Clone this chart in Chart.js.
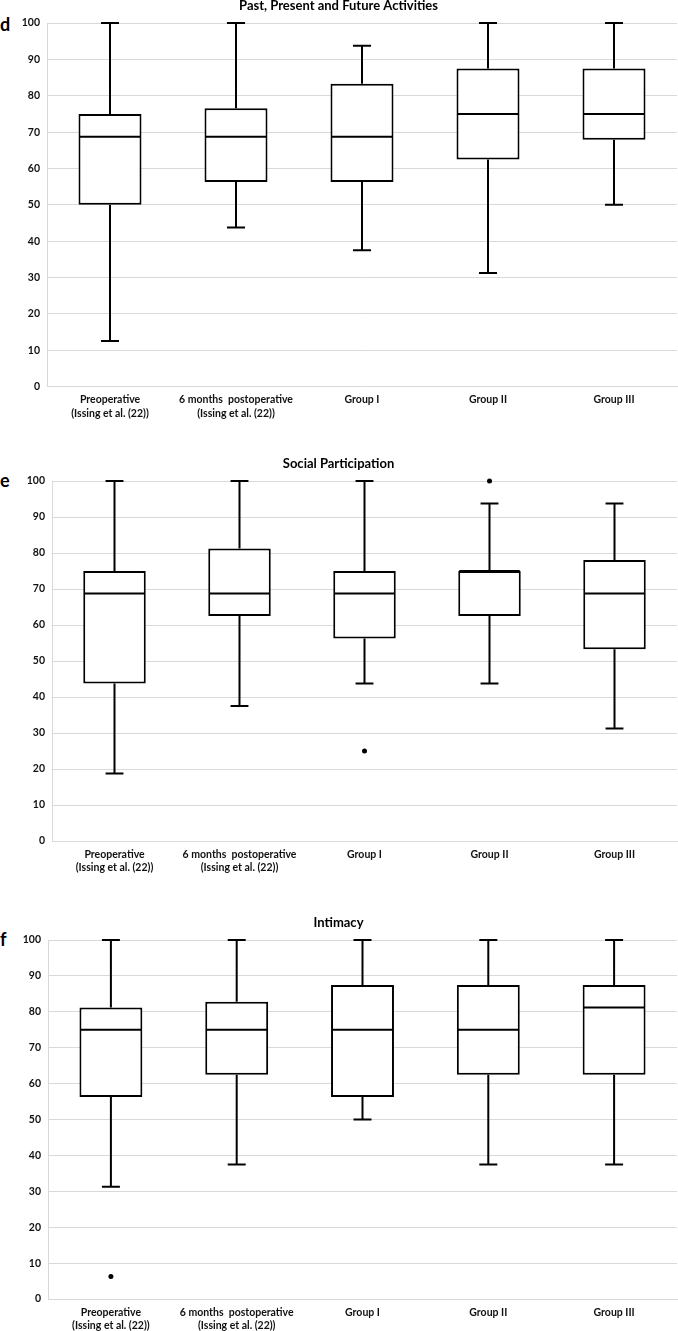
<!DOCTYPE html>
<html>
<head>
<meta charset="utf-8">
<script src="https://cdn.jsdelivr.net/npm/chart.js@4.4.0/dist/chart.umd.min.js"></script>
<style>
  body { margin: 0; width: 678px; height: 1331px; overflow: hidden; background: #fff; position: relative; }
  .panel { position: absolute; left: 0; width: 702px; }
  .letter { position: absolute; left: 0; font: bold 18px Lato, sans-serif; line-height: 1; color: #000; }
</style>
</head>
<body>

<div class="letter" style="top:15px">d</div>
<div class="letter" style="top:471px">e</div>
<div class="letter" style="top:930px">f</div>

<div class="panel" style="top:-2.5px;height:422.5px"><canvas id="chartD"></canvas></div>
<div class="panel" style="top:455.5px;height:419px"><canvas id="chartE"></canvas></div>
<div class="panel" style="top:915px;height:418px"><canvas id="chartF"></canvas></div>

<script>
// --- DATOS ---
const categories = [
    ['Preoperative', '(Issing et al. (22))'],
    ['6 months  postoperative', '(Issing et al. (22))'],
    'Group I',
    'Group II',
    'Group III'
];
const yTicks = [0, 10, 20, 30, 40, 50, 60, 70, 80, 90, 100];

// d: Past, Present and Future Activities
const dMin      = [12.5, 43.75, 37.5, 31.25, 50];
const dQ1       = [50, 56.25, 56.25, 62.5, 67.9];
const dMedian   = [68.75, 68.75, 68.75, 75, 75];
const dQ3       = [75, 76.6, 83.3, 87.5, 87.5];
const dMax      = [100, 100, 93.75, 100, 100];
const dOutliers = [null, null, null, null, null];

// e: Social Participation
const eMin      = [18.75, 37.5, 43.75, 43.75, 31.25];
const eQ1       = [43.75, 62.5, 56.25, 62.5, 53.3];
const eMedian   = [68.75, 68.75, 68.75, 75, 68.75];
const eQ3       = [75, 81.25, 75, 75, 78.1];
const eMax      = [100, 100, 100, 93.75, 93.75];
const eOutliers = [null, null, 25, 100, null];

// f: Intimacy
const fMin      = [31.25, 37.5, 50, 37.5, 37.5];
const fQ1       = [56.25, 62.5, 56.25, 62.5, 62.5];
const fMedian   = [75, 75, 75, 75, 81.25];
const fQ3       = [81.25, 82.8, 87.5, 87.5, 87.5];
const fMax      = [100, 100, 100, 100, 100];
const fOutliers = [6.25, null, null, null, null];

// --- PLUGIN: bigotes, topes y mediana ---
const boxWhiskers = {
    id: 'boxWhiskers',
    afterDatasetsDraw(chart) {
        const ds = chart.data.datasets[0];
        const meta = chart.getDatasetMeta(0);
        const y = chart.scales.y;
        const ctx = chart.ctx;
        ctx.save();
        ctx.strokeStyle = '#000';
        ctx.lineWidth = 2;
        meta.data.forEach((bar, i) => {
            const cx = bar.x;
            const half = bar.width / 2;
            const cap = bar.width * 0.143;
            const yMin = y.getPixelForValue(ds.stats.min[i]);
            const yQ1 = y.getPixelForValue(ds.data[i][0]);
            const yQ3 = y.getPixelForValue(ds.data[i][1]);
            const yMax = y.getPixelForValue(ds.stats.max[i]);
            const yMed = y.getPixelForValue(ds.stats.median[i]);
            ctx.beginPath();
            ctx.moveTo(cx, yQ3); ctx.lineTo(cx, yMax);
            ctx.moveTo(cx - cap, yMax); ctx.lineTo(cx + cap, yMax);
            ctx.moveTo(cx, yQ1); ctx.lineTo(cx, yMin);
            ctx.moveTo(cx - cap, yMin); ctx.lineTo(cx + cap, yMin);
            ctx.moveTo(cx - half + 1, yMed); ctx.lineTo(cx + half - 1, yMed);
            ctx.stroke();
        });
        ctx.restore();
    }
};

function makeBoxChart(canvasId, title, min, q1, median, q3, max, outliers, axisLeft) {
    const boxes = q1.map((v, i) => [v, q3[i]]);
    return new Chart(document.getElementById(canvasId), {
        type: 'bar',
        data: {
            labels: categories,
            datasets: [{
                data: boxes,
                stats: { min: min, median: median, max: max },
                backgroundColor: '#fff',
                borderColor: '#000',
                borderWidth: 2,
                borderSkipped: false,
                categoryPercentage: 1,
                barPercentage: 0.5
            }, {
                type: 'line',
                data: outliers,
                showLine: false,
                clip: false,
                pointRadius: 2.5,
                pointBackgroundColor: '#000',
                pointBorderColor: '#000',
                pointBorderWidth: 0
            }]
        },
        options: {
            responsive: true,
            maintainAspectRatio: false,
            animation: false,
            layout: { padding: { top: 0, right: 25, bottom: 0, left: 0 } },
            plugins: {
                legend: { display: false },
                tooltip: { enabled: false },
                title: {
                    display: true,
                    text: title,
                    color: '#000',
                    font: { family: 'Lato', size: 13, weight: 'bold' },
                    padding: { top: 0, bottom: 9.5 }
                }
            },
            scales: {
                x: {
                    offset: true,
                    grid: { display: false, drawTicks: false },
                    border: { display: true, color: '#d9d9d9', width: 1 },
                    ticks: {
                        color: '#111',
                        padding: 7,
                        maxRotation: 0,
                        autoSkip: false,
                        font: { family: 'Lato', size: 10.5, weight: 'bold', lineHeight: 1.25 }
                    },
                    afterFit: (scale) => { scale.height = 34; }
                },
                y: {
                    min: 0,
                    max: 100,
                    afterBuildTicks: (scale) => { scale.ticks = yTicks.map(v => ({ value: v })); },
                    grid: { color: '#d9d9d9', lineWidth: 1, drawTicks: false },
                    border: { display: true, color: '#d9d9d9', width: 1 },
                    ticks: {
                        color: '#111',
                        padding: 7,
                        font: { family: 'Lato', size: 10.5, weight: 'bold' }
                    },
                    afterFit: (scale) => { scale.width = axisLeft; }
                }
            }
        },
        plugins: [boxWhiskers]
    });
}

makeBoxChart('chartD', 'Past, Present and Future Activities', dMin, dQ1, dMedian, dQ3, dMax, dOutliers, 47);
makeBoxChart('chartE', 'Social Participation', eMin, eQ1, eMedian, eQ3, eMax, eOutliers, 52);
makeBoxChart('chartF', 'Intimacy', fMin, fQ1, fMedian, fQ3, fMax, fOutliers, 48);
</script>
</body>
</html>
